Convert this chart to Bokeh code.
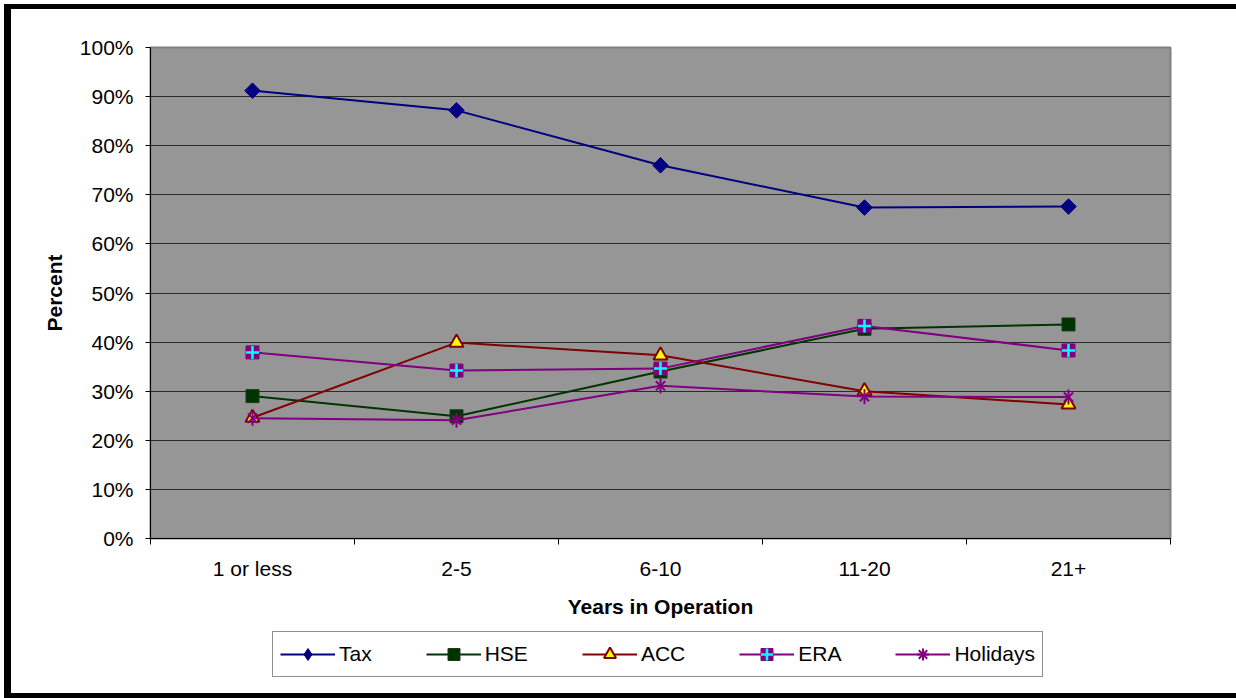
from math import pi

from bokeh.plotting import figure
from bokeh.layouts import column, row
from bokeh.models import (FixedTicker, NumeralTickFormatter, Legend, LegendItem,
                          Range1d, Div, Spacer)
from bokeh.embed import file_html
from bokeh.resources import INLINE

# Share of businesses by years in operation
categories = ["1 or less", "2-5", "6-10", "11-20", "21+"]
tax = [0.912, 0.872, 0.760, 0.674, 0.676]
hse = [0.290, 0.249, 0.340, 0.427, 0.436]
acc = [0.246, 0.399, 0.373, 0.300, 0.273]
era = [0.379, 0.342, 0.346, 0.433, 0.383]
holidays = [0.245, 0.241, 0.311, 0.289, 0.288]
y_ticks = [0.0, 0.1, 0.2, 0.3, 0.4, 0.5, 0.6, 0.7, 0.8, 0.9, 1.0]

FONT = "Liberation Sans"

# series styling: line colour, marker, marker size, fill, marker outline, outline width
styles = {
    "Tax": dict(color="#000080", marker="square", angle=pi / 4, size=11,
                fill="#000080", edge="#000080", edge_w=1),
    "HSE": dict(color="#003300", marker="square", angle=0, size=13,
                fill="#003300", edge="#1c3d1c", edge_w=1),
    "ACC": dict(color="#800000", marker="triangle", angle=0, size=14,
                fill="#ffff00", edge="#800000", edge_w=2),
    "ERA": dict(color="#800080", marker="square", angle=0, size=13,
                fill="#800080", edge="#800080", edge_w=1),
    "Holidays": dict(color="#800080", marker="x", angle=0, size=13,
                     fill=None, edge="#800080", edge_w=2),
}
series = {"Tax": tax, "HSE": hse, "ACC": acc, "ERA": era, "Holidays": holidays}

# category centres sit mid-slot, slot boundaries carry the tick marks
xs = [i + 0.5 for i in range(len(categories))]
bounds = list(range(len(categories) + 1))


def draw_series(fig, name, x, y, legend_key=False):
    st = styles[name]
    marker = st["marker"]
    # legend keys are drawn unrotated, so use equivalent upright shapes there
    if legend_key and name == "Tax":
        marker = "diamond"
    if legend_key and name == "Holidays":
        marker = "asterisk"
    rs = [fig.line(x, y, line_color=st["color"], line_width=2)]
    rs.append(fig.scatter(x, y, marker=marker, angle=st["angle"],
                          size=st["size"], fill_color=st["fill"],
                          line_color=st["edge"], line_width=st["edge_w"]))
    if name == "ERA":
        rs.append(fig.scatter(x, y, marker="cross", size=13,
                              line_color="#00ffff", line_width=2.5))
    if name == "Holidays" and not legend_key:
        # star marker: an x with a vertical stroke through it
        rs.append(fig.scatter(x, y, marker="dash", angle=pi / 2, size=15,
                              line_color=st["edge"], line_width=2))
    return rs


# ---- main chart
p = figure(width=1225, height=617, output_backend="svg", toolbar_location=None,
           x_range=Range1d(0, len(categories)), y_range=Range1d(0, 1),
           min_border_left=139, min_border_right=66,
           min_border_top=38, min_border_bottom=88)

p.background_fill_color = "#969696"
p.border_fill_color = "white"
p.outline_line_color = "#808080"
p.outline_line_width = 2

xa = p.xaxis[0]
xa.ticker = FixedTicker(ticks=xs, minor_ticks=bounds)
xa.major_label_overrides = {x: c for x, c in zip(xs, categories)}
xa.major_tick_out = 0
xa.major_tick_in = 0
xa.minor_tick_out = 6
xa.minor_tick_in = 0
xa.minor_tick_line_color = "black"
xa.axis_line_color = "black"
xa.major_label_standoff = 12
xa.major_label_text_font = FONT
xa.major_label_text_font_size = "21px"
xa.major_label_text_color = "black"
xa.axis_label = "Years in Operation"
xa.axis_label_text_font = FONT
xa.axis_label_text_font_size = "21px"
xa.axis_label_text_font_style = "bold"
xa.axis_label_text_color = "black"
xa.axis_label_standoff = 12

ya = p.yaxis[0]
ya.ticker = FixedTicker(ticks=y_ticks, minor_ticks=[])
ya.formatter = NumeralTickFormatter(format="0%")
ya.major_tick_out = 5
ya.major_tick_in = 0
ya.major_tick_line_color = "black"
ya.axis_line_color = "black"
ya.major_label_standoff = 12
ya.major_label_text_font = FONT
ya.major_label_text_font_size = "21px"
ya.major_label_text_color = "black"
ya.axis_label = "Percent"
ya.axis_label_text_font = FONT
ya.axis_label_text_font_size = "21px"
ya.axis_label_text_font_style = "bold"
ya.axis_label_text_color = "black"
ya.axis_label_standoff = 11

p.xgrid.visible = False
# inner gridlines only: the bottom is the axis, the top is the plot border
p.ygrid.ticker = FixedTicker(ticks=y_ticks[1:-1], minor_ticks=[])
p.ygrid.grid_line_color = "#2b2b2b"
p.ygrid.grid_line_width = 1

for name, vals in series.items():
    draw_series(p, name, xs, vals)

# ---- legend strip below the chart; its y range sits above the data so the
# series only lend their styling to the legend keys
q = figure(width=1225, height=67, output_backend="svg", toolbar_location=None,
           x_range=Range1d(0, len(categories)), y_range=Range1d(2, 3),
           x_axis_location=None, y_axis_location=None,
           min_border_left=139, min_border_right=66,
           min_border_top=0, min_border_bottom=0)
q.outline_line_color = None
q.background_fill_color = "white"
q.border_fill_color = "white"
q.grid.visible = False

items = [LegendItem(label=name,
                    renderers=draw_series(q, name, xs, vals, legend_key=True))
         for name, vals in series.items()]

legend = Legend(items=items, orientation="horizontal", location=(122, 16),
                glyph_width=55, glyph_height=30, label_standoff=4, spacing=54,
                padding=7, margin=0,
                border_line_color="#222222", border_line_width=1,
                background_fill_color="white", background_fill_alpha=1,
                label_text_font=FONT, label_text_font_size="21px",
                label_text_color="black")
q.add_layout(legend, "center")


# ---- black page frame: left, top and bottom bars
def bar(w, h):
    return Div(text="", width=w, height=h, margin=0,
               styles={"background-color": "black"})


chart = column(p, q, spacing=0)
framed = column(bar(1232, 5), row(bar(7, 684), chart, spacing=0),
                bar(1232, 5), spacing=0)
page = row(Spacer(width=4, height=1), column(Spacer(width=1, height=4), framed,
                                              spacing=0), spacing=0)

open("out.html", "w").write(file_html(page, INLINE))
